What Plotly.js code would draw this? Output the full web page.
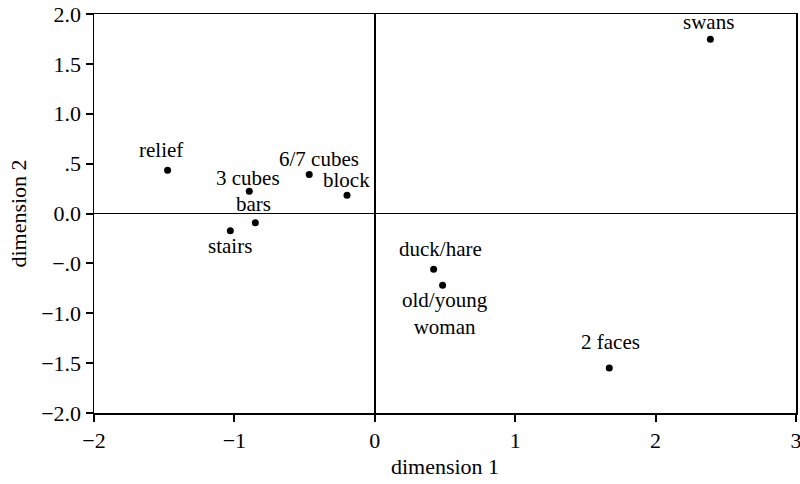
<!DOCTYPE html>
<html>
<head>
<meta charset="utf-8">
<script src="https://cdn.plot.ly/plotly-3.0.1.min.js"></script>
<style>html,body{margin:0;padding:0;background:#fff;}#chart{width:800px;height:484px;}</style>
</head>
<body>
<div id="chart"></div>
<script>
// Data
const labels = ["relief", "3 cubes", "6/7 cubes", "block", "bars", "stairs", "duck/hare", "old/young<br>woman", "2 faces", "swans"];
const dim1 = [-1.476, -0.894, -0.467, -0.198, -0.851, -1.029, 0.419, 0.483, 1.670, 2.390];
const dim2 = [0.434, 0.223, 0.390, 0.183, -0.092, -0.173, -0.560, -0.719, -1.550, 1.746];

// Axis ticks
const xTickVals = [-2, -1, 0, 1, 2, 3];
const xTickText = ["\u22122", "\u22121", "0", "1", "2", "3"];
const yTickVals = [2, 1.5, 1, 0.5, 0, -0.5, -1, -1.5, -2];
const yTickText = ["2.0", "1.5", "1.0", ".5", "0.0", "\u2212.0", "\u22121.0", "\u22121.5", "\u22122.0"];

// Label offsets (pixels) - styling only
const labelShiftX = [-7, -1, 10, -1, -2, 0, 7, 2, 1, -2];
const labelShiftY = [20, 13, 16, 15, 19, -15, 20, -28, 26, 17];

const FONT = "Liberation Serif";

const trace = {
  x: dim1,
  y: dim2,
  mode: "markers",
  type: "scatter",
  marker: {color: "#000", size: 7},
  hoverinfo: "text",
  text: labels,
  showlegend: false
};

const annotations = labels.map((t, i) => ({
  x: dim1[i], y: dim2[i], xref: "x", yref: "y",
  text: t, showarrow: false,
  xanchor: "center", yanchor: "middle",
  xshift: labelShiftX[i], yshift: labelShiftY[i],
  font: {family: FONT, size: 21, color: "#000"}
}));

const layout = {
  width: 800, height: 484,
  margin: {l: 94, r: 4, t: 14, b: 71, autoexpand: false},
  paper_bgcolor: "#fff", plot_bgcolor: "#fff",
  font: {family: FONT, color: "#000", size: 22},
  xaxis: {
    range: [-2, 3], tickvals: xTickVals, ticktext: xTickText,
    showgrid: false, zeroline: true, zerolinecolor: "#000", zerolinewidth: 1.5,
    showline: true, linecolor: "#000", linewidth: 1.5, mirror: true,
    ticks: "outside", ticklen: 7, tickwidth: 2, tickcolor: "#000",
    ticklabeloverflow: "allow",
    tickfont: {family: FONT, size: 22, color: "#000"},
    title: {text: "dimension 1", font: {family: FONT, size: 22, color: "#000"}, standoff: 6},
    automargin: false, fixedrange: true
  },
  yaxis: {
    range: [-2, 2], tickvals: yTickVals, ticktext: yTickText,
    showgrid: false, zeroline: true, zerolinecolor: "#000", zerolinewidth: 1.5,
    showline: true, linecolor: "#000", linewidth: 1.5, mirror: true,
    ticks: "outside", ticklen: 7, tickwidth: 2, tickcolor: "#000",
    ticklabeloverflow: "allow",
    tickfont: {family: FONT, size: 22, color: "#000"},
    title: {text: "dimension 2", font: {family: FONT, size: 22, color: "#000"}, standoff: 8},
    automargin: false, fixedrange: true
  },
  annotations: annotations
};

Plotly.newPlot("chart", [trace], layout, {displayModeBar: false, staticPlot: true});
</script>
</body>
</html>
